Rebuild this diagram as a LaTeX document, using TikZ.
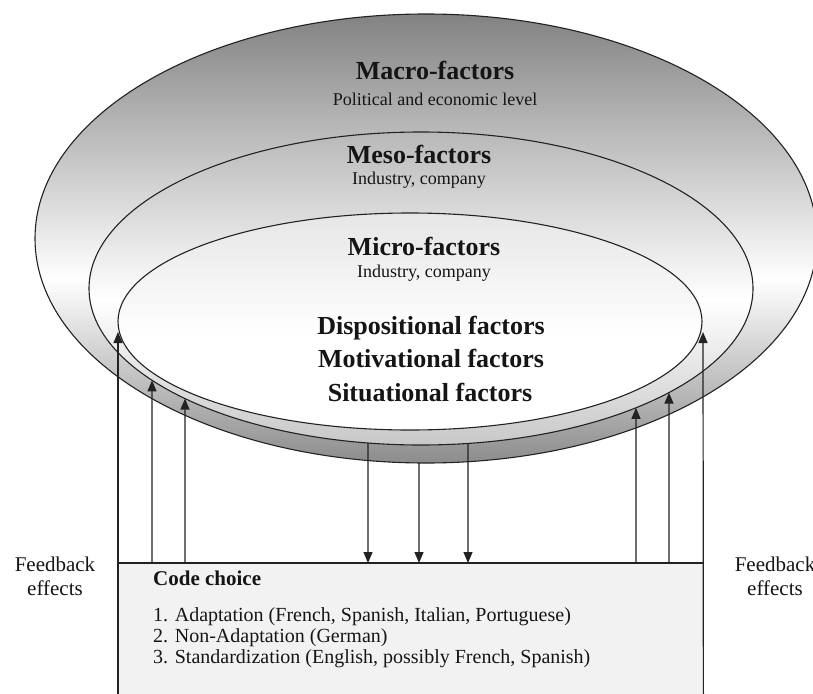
\documentclass[tikz,border=0pt]{standalone}
\usepackage{fontspec}
\setmainfont{Liberation Serif}
\usetikzlibrary{intersections,arrows.meta}
\definecolor{txt}{HTML}{151515}
\definecolor{edge}{HTML}{222222}
\definecolor{macrotop}{HTML}{828282}
\definecolor{macrobot}{HTML}{8C8C8C}
\definecolor{mesotop}{HTML}{B8B8B8}
\definecolor{mesobot}{HTML}{C8C8C8}
\definecolor{microtop}{HTML}{E6E6E6}
\definecolor{boxfill}{HTML}{F2F2F2}
\begin{document}
\begin{tikzpicture}[x=1pt,y=-1pt,
  title/.style={font=\fontsize{26}{30}\selectfont\bfseries, text=txt, anchor=base, inner sep=0pt},
  sub/.style={font=\fontsize{18}{21}\selectfont, text=txt, anchor=base, inner sep=0pt},
  fb/.style={font=\fontsize{21}{24}\selectfont, text=txt, anchor=base, inner sep=0pt},
  listline/.style={font=\fontsize{20}{22}\selectfont, text=txt, anchor=base west, inner sep=0pt},
  ring/.style={line width=1.1pt, draw=edge},
  conn/.style={line width=1.2pt, draw=edge},
  arr/.style={conn, -{Triangle[length=11pt,width=9pt]}}]
\useasboundingbox (0,0) rectangle (813,693);
\fill[white] (0,0) rectangle (813,693);

% Macro ellipse
\begin{scope}
  \clip (426,238.5) ellipse [x radius=391, y radius=224.5];
  \shade[top color=macrotop, bottom color=white] (0,14) rectangle (813,280);
  \shade[top color=white, bottom color=macrobot] (0,279) rectangle (813,463.5);
\end{scope}
\draw[ring, name path=macro] (426,238.5) ellipse [x radius=391, y radius=224.5];

% Meso ellipse
\begin{scope}
  \clip (421,288.5) ellipse [x radius=332, y radius=156.5];
  \shade[top color=mesotop, bottom color=white] (0,132) rectangle (813,300);
  \shade[top color=white, bottom color=mesobot] (0,299) rectangle (813,445.5);
\end{scope}
\draw[ring, name path=meso] (421,288.5) ellipse [x radius=332, y radius=156.5];

% Micro ellipse
\begin{scope}
  \clip (410,321.5) ellipse [x radius=292, y radius=108.5];
  \shade[top color=microtop, bottom color=white] (0,213) rectangle (813,335);
  \fill[white] (0,334) rectangle (813,431);
\end{scope}
\draw[ring, name path=micro] (410,321.5) ellipse [x radius=292, y radius=108.5];

% Texts in ellipses
\node[title] (macro) at (435,79) {Macro-factors};
\node[sub] (macrosub) at (435,105) {Political and economic level};
\node[title] (meso) at (419,163) {Meso-factors};
\node[sub] (mesosub) at (419,184) {Industry, company};
\node[title] (micro) at (424,255) {Micro-factors};
\node[sub] (microsub) at (424,277) {Industry, company};
\node[title] (disp) at (431,334) {Dispositional factors};
\node[title] (motiv) at (431,367) {Motivational factors};
\node[title] (situ) at (430,401) {Situational factors};

% Code choice box
\node[fill=boxfill, draw=none, inner sep=0pt, minimum width=585pt, minimum height=140pt, anchor=north west] (box) at (118,563) {};
\draw[conn] (box.north west) -- (box.north east);
\node[title, font=\fontsize{21}{24}\selectfont\bfseries, anchor=base west] (code) at (153,585) {Code choice};
\node[listline] (l1) at (153,621) {1. Adaptation (French, Spanish, Italian, Portuguese)};
\node[listline] (l2) at (153,642) {2. Non-Adaptation (German)};
\node[listline] (l3) at (153,663) {3. Standardization (English, possibly French, Spanish)};

% Feedback labels
\node[fb] (fbl1) at (55,571) {Feedback};
\node[fb] (fbl2) at (55,595) {effects};
\node[fb] (fbr1) at (775,571) {Feedback};
\node[fb] (fbr2) at (775,595) {effects};

% Base coordinates on the box
\coordinate (bL1) at (box.south west);
\coordinate (bR1) at (box.south east);
\coordinate (bL2) at (152,563);
\coordinate (bL3) at (185,563);
\coordinate (bR2) at (669,563);
\coordinate (bR3) at (636,563);
\coordinate (bD1) at (368,563);
\coordinate (bD2) at (419,563);
\coordinate (bD3) at (468,563);
\coordinate (tL1) at (118,332);
\coordinate (tR1) at (703,332);

% intersection helpers
\path[name path=vL2] (152,563) -- (152,250);
\path[name path=vL3] (185,563) -- (185,250);
\path[name path=vR2] (669,563) -- (669,250);
\path[name path=vR3] (636,563) -- (636,250);
\path[name path=vD1] (368,563) -- (368,300);
\path[name path=vD2] (419,563) -- (419,300);
\path[name path=vD3] (468,563) -- (468,300);
\path[name intersections={of=vL2 and meso, sort by=vL2, by={tL2}}];
\path[name intersections={of=vL3 and meso, sort by=vL3, by={tL3}}];
\path[name intersections={of=vR2 and meso, sort by=vR2, by={tR2}}];
\path[name intersections={of=vR3 and meso, sort by=vR3, by={tR3}}];
\path[name intersections={of=vD1 and meso, sort by=vD1, by={sD1}}];
\path[name intersections={of=vD2 and macro, sort by=vD2, by={sD2}}];
\path[name intersections={of=vD3 and meso, sort by=vD3, by={sD3}}];

% Feedback arrows (upwards)
\draw[arr] (bL1) -- (tL1);
\draw[arr] (bL2) -- (tL2);
\draw[arr] (bL3) -- (tL3);
\draw[arr] (bR1) -- (tR1);
\draw[arr] (bR2) -- (tR2);
\draw[arr] (bR3) -- (tR3);

% Influence arrows (downwards)
\draw[arr] (sD1) -- (bD1);
\draw[arr] (sD2) -- (bD2);
\draw[arr] (sD3) -- (bD3);
\end{tikzpicture}
\end{document}
